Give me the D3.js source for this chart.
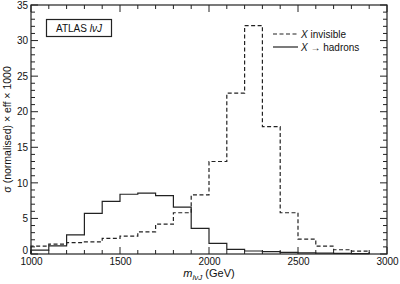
<!DOCTYPE html>
<html><head><meta charset="utf-8">
<script src="https://cdn.jsdelivr.net/npm/d3@7"></script>
<style>body{margin:0;background:#fff}svg{display:block;font-family:"Liberation Sans",Arial,sans-serif}</style>
</head><body><svg id="c" width="400" height="284"></svg>
<script>
const binEdges = [1000,1100,1200,1300,1400,1500,1600,1700,1800,1900,2000,2100,2200,2300,2400,2500,2600,2700,2800,2900];
const invisible = [1.1,1.4,1.6,1.7,2.2,2.5,3.1,4.2,5.8,8.3,13.0,22.6,32.1,17.9,5.8,2.1,1.1,0.6,0.4];
const hadrons = [0.55,1.15,2.7,5.7,7.4,8.4,8.55,8.2,6.6,3.6,1.5,0.65,0.42,0.32,0.22,0.16,0.12,0.09,0.06];
const xTicks = [1000,1500,2000,2500,3000];
const yTicks = [0,5,10,15,20,25,30,35];

const svg = d3.select("#c");
const L=31,R=387,T=5,B=254;
const x = d3.scaleLinear().domain([1000,3000]).range([L,R]);
const y = d3.scaleLinear().domain([0,35]).range([B,T]);
const col="#222";

function stepPts(vals){
  const pts=[[binEdges[0],0]];
  vals.forEach((v,i)=>{pts.push([binEdges[i],v]);pts.push([binEdges[i]+100,v]);});
  pts.push([binEdges[vals.length-1]+100,0]);
  return pts;
}
const line=d3.line().x(d=>x(d[0])).y(d=>y(d[1]));
svg.append("path").attr("d",line(stepPts(hadrons))).attr("fill","none").attr("stroke",col).attr("stroke-width",1.2);
svg.append("path").attr("d",line(stepPts(invisible))).attr("fill","none").attr("stroke",col).attr("stroke-width",1.2).attr("stroke-dasharray","4,2.5");

// axes with inward ticks
const minorX=d3.range(1000,3001,100), minorY=d3.range(0,36,1);
const g=svg.append("g").attr("stroke",col).attr("stroke-width",1);
minorX.forEach(v=>{const len=(v%500===0)?7:4;
  g.append("line").attr("x1",x(v)).attr("x2",x(v)).attr("y1",B).attr("y2",B-len);
  g.append("line").attr("x1",x(v)).attr("x2",x(v)).attr("y1",T).attr("y2",T+len);});
minorY.forEach(v=>{const len=(v%5===0)?7:4;
  g.append("line").attr("x1",L).attr("x2",L+len).attr("y1",y(v)).attr("y2",y(v));
  g.append("line").attr("x1",R).attr("x2",R-len).attr("y1",y(v)).attr("y2",y(v));});
svg.append("rect").attr("x",L).attr("y",T).attr("width",R-L).attr("height",B-T).attr("fill","none").attr("stroke",col).attr("stroke-width",1.2);

const ax=svg.append("g").attr("transform",`translate(0,${B})`).call(d3.axisBottom(x).tickValues(xTicks).tickSize(0).tickPadding(4).tickFormat(d3.format("d")));
ax.select(".domain").remove();
ax.selectAll("text").attr("font-size",10).attr("fill","#111").attr("font-family","Liberation Sans, Arial, sans-serif");
const ay=svg.append("g").attr("transform",`translate(${L},0)`).call(d3.axisLeft(y).tickValues(yTicks).tickSize(0).tickPadding(3));
ay.select(".domain").remove();
ay.selectAll("text").attr("font-size",10).attr("fill","#111").attr("font-family","Liberation Sans, Arial, sans-serif")
  .attr("dy",d=>d===0?"-0.05em":"0.32em");

// x label
const xl=svg.append("text").attr("x",209).attr("y",277).attr("text-anchor","middle").attr("font-size",11).attr("fill","#111");
xl.append("tspan").attr("font-style","italic").text("m");
xl.append("tspan").attr("font-style","italic").attr("font-size",8).attr("dy",3).text("lνJ");
xl.append("tspan").attr("dy",-3).text(" (GeV)");
// y label
svg.append("text").attr("transform",`translate(11,${(T+B)/2}) rotate(-90)`).attr("text-anchor","middle").attr("font-size",10.5).attr("fill","#111").text("σ (normalised) × eff × 1000");

// ATLAS box
svg.append("rect").attr("x",46.5).attr("y",19.5).attr("width",65).attr("height",17).attr("fill","#fff").attr("stroke",col).attr("stroke-width",1.2);
const at=svg.append("text").attr("x",79).attr("y",32).attr("text-anchor","middle").attr("font-size",10).attr("fill","#111");
at.append("tspan").text("ATLAS ");
at.append("tspan").attr("font-style","italic").text("lνJ");

// legend
const lg=svg.append("g");
lg.append("line").attr("x1",273).attr("x2",298).attr("y1",34).attr("y2",34).attr("stroke",col).attr("stroke-width",1.2).attr("stroke-dasharray","4,2.5");
lg.append("line").attr("x1",273).attr("x2",298).attr("y1",47).attr("y2",47).attr("stroke",col).attr("stroke-width",1.2);
const t1=lg.append("text").attr("x",301).attr("y",37.5).attr("font-size",10).attr("fill","#111");
t1.append("tspan").attr("font-style","italic").text("X");
t1.append("tspan").text(" invisible");
const t2=lg.append("text").attr("x",301).attr("y",50.5).attr("font-size",10).attr("fill","#111");
t2.append("tspan").attr("font-style","italic").text("X");
t2.append("tspan").text(" → hadrons");
</script></body></html>
